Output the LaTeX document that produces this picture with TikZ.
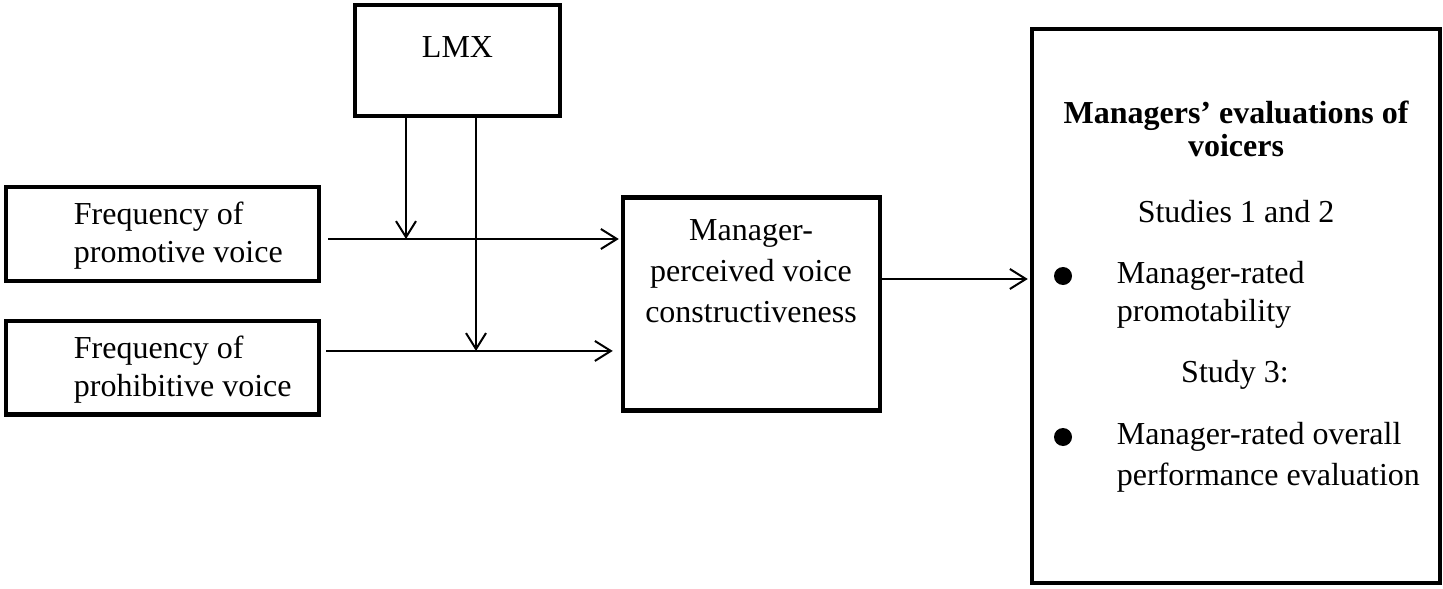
\documentclass[tikz,border=0pt]{standalone}
\usepackage{fontspec}
\setmainfont{Liberation Serif}
\usetikzlibrary{arrows.meta, positioning}

\begin{document}
\begin{tikzpicture}[
    x=0.5pt, y=-0.5pt,
    font=\fontsize{16}{19}\selectfont,
    box/.style={rectangle, draw=black, line width=2.25pt, inner sep=0pt},
    txt/.style={align=left, inner sep=0pt},
    arrow/.style={-{Straight Barb[length=8pt, width=10pt]}, line width=1pt},
    dot/.style={circle, fill=black, inner sep=0pt, minimum size=9pt}
]
    \useasboundingbox (0,0) rectangle (1443,588);

    % Boxes
    \node[box, minimum width=102.5pt, minimum height=55.5pt] (lmx) at (457.5,60.5) {};
    \node[box, minimum width=156.5pt, minimum height=47pt] (promo) at (162.5,234) {};
    \node[box, minimum width=156.5pt, minimum height=46.75pt] (prohib) at (162.5,367.75) {};
    \node[box, minimum width=128.5pt, minimum height=106.25pt] (mid) at (751.5,304) {};
    \node[box, minimum width=204pt, minimum height=277pt] (eval) at (1236,306) {};

    % Texts
    \node[txt] (lmxtxt) at (457.5,47) {LMX};
    \node[txt, anchor=west] (promotxt) at (73.5,236) {Frequency of\\promotive voice};
    \node[txt, anchor=west] (prohibtxt) at (73.5,369.5) {Frequency of\\prohibitive voice};
    \node[txt, align=center, font=\fontsize{16}{20.5}\selectfont] (midtxt) at (751,271)
      {Manager-\\perceived voice\\constructiveness};

    \node[txt, align=center, font=\bfseries\fontsize{16}{16.5}\selectfont] (evalhead) at (1236,129)
      {Managers' evaluations of\\voicers};
    \node[txt] (stud12) at (1236,212) {Studies 1 and 2};
    \node[dot] (bul1) at (1063,276) {};
    \node[txt, anchor=west] (item1) at (1116.5,294.5) {Manager-rated\\promotability};
    \node[txt] (stud3) at (1235,375) {Study 3:};
    \node[dot] (bul2) at (1063,437) {};
    \node[txt, anchor=west, font=\fontsize{16}{20.5}\selectfont] (item2) at (1116.5,457.5)
      {Manager-rated overall\\performance evaluation};

    % Arrows
    \coordinate (j1) at ([xshift=3.5pt, yshift=-2.5pt]promo.east);
    \coordinate (j2) at ([xshift=2.5pt, yshift=8.4pt]prohib.east);
    \coordinate (k1) at ([xshift=-25.75pt]lmx.south);
    \coordinate (k2) at ([xshift=9.25pt]lmx.south);
    \coordinate (j3) at ([yshift=12.5pt]mid.east);

    \draw[arrow, shorten >=1pt] (j1) -- (j1 -| mid.west);
    \draw[arrow, shorten >=4pt] (j2) -- (j2 -| mid.west);
    \draw[arrow] (k1) -- (k1 |- j1);
    \draw[arrow] (k2) -- (k2 |- j2);
    \draw[arrow, shorten >=1pt] (j3) -- (j3 -| eval.west);
\end{tikzpicture}
\end{document}
